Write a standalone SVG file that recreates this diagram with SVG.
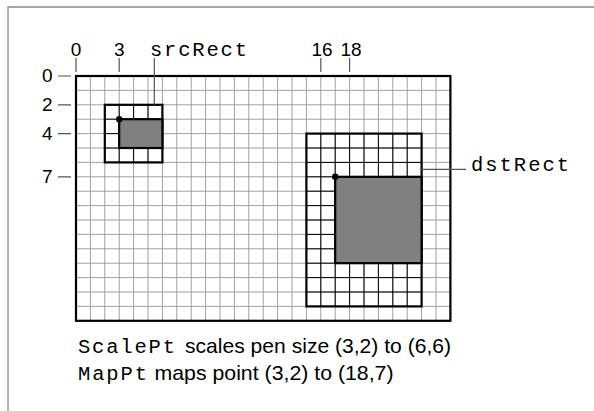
<svg xmlns="http://www.w3.org/2000/svg" width="594" height="411" viewBox="0 0 594 411">
<style>
.frame{fill:none;stroke:#8a8a8a;stroke-width:1.3}
.grid{fill:none;stroke:#a0a0a0;stroke-width:1}
.inner{fill:none;stroke:#000;stroke-width:1}
.thick{fill:none;stroke:#000;stroke-width:2.2}
.fillr{fill:#808080;stroke:#000;stroke-width:2.2}
.tick{fill:none;stroke:#555;stroke-width:1.2}
.sans{font-family:"Liberation Sans",Arial,sans-serif;fill:#000}
.mono{font-family:"Liberation Mono","Courier New",monospace;fill:#000}
</style>
<rect width="594" height="411" fill="#fff"/>
<path class="frame" d="M8 411V7H594"/>
<g id="grid">
<path class="grid" d="M90.4 76V320.8M104.8 76V320.8M119.2 76V320.8M133.6 76V320.8M148 76V320.8M162.4 76V320.8M176.8 76V320.8M191.2 76V320.8M205.6 76V320.8M220 76V320.8M234.4 76V320.8M248.8 76V320.8M263.2 76V320.8M277.6 76V320.8M292 76V320.8M306.4 76V320.8M320.8 76V320.8M335.2 76V320.8M349.6 76V320.8M364 76V320.8M378.4 76V320.8M392.8 76V320.8M407.2 76V320.8M421.6 76V320.8M436 76V320.8M76 90.4H450.4M76 104.8H450.4M76 119.2H450.4M76 133.6H450.4M76 148H450.4M76 162.4H450.4M76 176.8H450.4M76 191.2H450.4M76 205.6H450.4M76 220H450.4M76 234.4H450.4M76 248.8H450.4M76 263.2H450.4M76 277.6H450.4M76 292H450.4M76 306.4H450.4"/>
<rect class="thick" x="76" y="76" width="374.4" height="244.8"/>
</g>
<g id="srcRect">
<path class="inner" d="M119.2 104.8V162.4M133.6 104.8V162.4M148 104.8V162.4M104.8 119.2H162.4M104.8 133.6H162.4M104.8 148H162.4"/>
<rect class="thick" x="104.8" y="104.8" width="57.6" height="57.6"/>
<rect class="fillr" x="119.2" y="119.2" width="43.2" height="28.8"/>
<circle cx="119.2" cy="119.2" r="3.2" fill="#000"/>
</g>
<g id="dstRect">
<path class="inner" d="M320.8 133.6V306.4M335.2 133.6V306.4M349.6 133.6V306.4M364 133.6V306.4M378.4 133.6V306.4M392.8 133.6V306.4M407.2 133.6V306.4M306.4 148H421.6M306.4 162.4H421.6M306.4 176.8H421.6M306.4 191.2H421.6M306.4 205.6H421.6M306.4 220H421.6M306.4 234.4H421.6M306.4 248.8H421.6M306.4 263.2H421.6M306.4 277.6H421.6M306.4 292H421.6"/>
<rect class="thick" x="306.4" y="133.6" width="115.2" height="172.8"/>
<rect class="fillr" x="335.2" y="176.8" width="86.4" height="86.4"/>
<circle cx="335.2" cy="176.8" r="3.2" fill="#000"/>
</g>
<g id="connectors">
<path class="tick" d="M76 58V72M119.2 58V72M320.8 58V72M349.6 58V72M58 76H71M58 104.8H71M58 133.6H71M58 176.8H71"/>
<path class="tick" d="M154.3 58V104.8M421.6 169.3H466"/>
</g>
<g id="labels">
<text class="sans" x="76" y="56" font-size="19" text-anchor="middle">0</text>
<text class="sans" x="119.2" y="56" font-size="19" text-anchor="middle">3</text>
<text class="sans" x="322" y="56" font-size="19" text-anchor="middle">16</text>
<text class="sans" x="351" y="56" font-size="19" text-anchor="middle">18</text>
<text class="sans" x="52.5" y="82" font-size="19" text-anchor="end">0</text>
<text class="sans" x="52.5" y="111" font-size="19" text-anchor="end">2</text>
<text class="sans" x="52.5" y="140" font-size="19" text-anchor="end">4</text>
<text class="sans" x="52.5" y="183" font-size="19" text-anchor="end">7</text>
<text class="mono" x="150" y="56" font-size="20.5" textLength="97" lengthAdjust="spacing">srcRect</text>
<text class="mono" x="471" y="171" font-size="20.5" textLength="98" lengthAdjust="spacing">dstRect</text>
<text class="mono" x="78" y="353" font-size="20.5" textLength="97" lengthAdjust="spacing">ScalePt</text>
<text class="sans" x="185" y="353" font-size="21" textLength="266" lengthAdjust="spacingAndGlyphs">scales pen size (3,2) to (6,6)</text>
<text class="mono" x="78" y="380" font-size="20.5" textLength="69" lengthAdjust="spacing">MapPt</text>
<text class="sans" x="154.5" y="380" font-size="21" textLength="239" lengthAdjust="spacingAndGlyphs">maps point (3,2) to (18,7)</text>
</g>
</svg>
